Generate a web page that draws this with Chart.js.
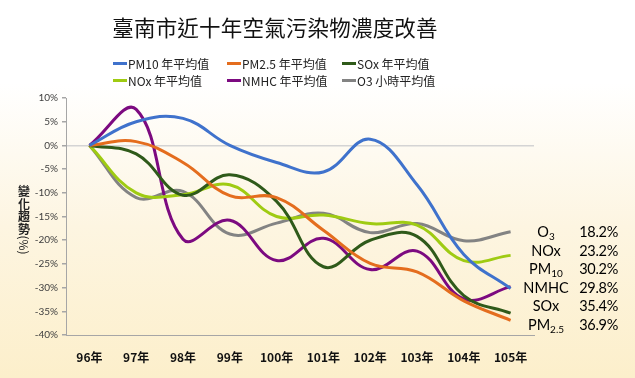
<!DOCTYPE html>
<html>
<head>
<meta charset="utf-8">
<script src="https://cdn.jsdelivr.net/npm/chart.js@4/dist/chart.umd.min.js"></script>
<style>
  html, body { margin: 0; padding: 0; }
  body { width: 635px; height: 378px; overflow: hidden;
    background: linear-gradient(to bottom, #ffffff 0%, #ffffff 22%, #fdf5e1 60%, #fcefcb 100%); }
  #wrap { position: relative; width: 635px; height: 378px; }
  canvas { position: absolute; left: 0; top: 0; }
  #title { position: absolute; left: 0; width: 550px; top: 11px; text-align: center;
    font: 21.5px "Noto Sans CJK TC", sans-serif; color: #111; letter-spacing: 0.2px; }
  .leg { position: absolute; font: 12px "Noto Sans CJK TC", sans-serif; color: #222;
    display: flex; align-items: center; white-space: nowrap; }
  .leg span.sw { display: inline-block; width: 14px; height: 3px; margin-right: 1px; }
  #ytitle { position: absolute; left: 17px; top: 185px; width: 14px;
    font: bold 12px "Noto Sans CJK TC", sans-serif; color: #222; text-align: center; }
  #ytitle .ch { display: block; height: 12.5px; line-height: 12.5px; }
  #ytitle .rot { display: block; width: 14px; height: 20px; position: relative; }
  #ytitle .rot span { position: absolute; left: 50%; top: 50%; transform: translate(-50%, -50%) rotate(90deg); white-space: nowrap; font-weight: normal; }
  .rl { position: absolute; font: 14.5px Lato, "Noto Sans", sans-serif; color: #000; height: 18px; line-height: 18px; }
  .rl .nm { position: absolute; left: 516px; width: 60px; text-align: center; }
  .rl .vl { position: absolute; left: 568px; width: 50px; text-align: right; letter-spacing: -0.3px; }
  .rl sub { font-size: 10px; vertical-align: -3px; line-height: 0; }
</style>
</head>
<body>
<div id="wrap">
  <canvas id="c" width="635" height="378"></canvas>
  <div id="title">臺南市近十年空氣污染物濃度改善</div>
  <div id="ytitle"><span class="ch">變</span><span class="ch">化</span><span class="ch">趨</span><span class="ch">勢</span><span class="rot"><span>(%)</span></span></div>
</div>
<script>
const years = ['96年','97年','98年','99年','100年','101年','102年','103年','104年','105年'];
const seriesNames = ['PM10 年平均值','PM2.5 年平均值','SOx 年平均值','NOx 年平均值','NMHC 年平均值','O3 小時平均值'];
const pm10 = [0, 5.0, 5.7, 0, -3.6, -5.6, 1.3, -8.3, -23, -30.2];
const pm25 = [0, 0.8, -3.6, -10.6, -11, -17.9, -24.9, -26.7, -32.8, -36.9];
const sox  = [0, -1.8, -10.5, -6.2, -11.8, -25.6, -20, -19.2, -31.7, -35.4];
const nox  = [0, -10, -10.4, -8.3, -15, -14.7, -16.5, -16.8, -24.3, -23.2];
const nmhc = [0, 7.6, -19.8, -15.8, -24.3, -19.6, -26.2, -22.3, -32.4, -29.8];
const o3   = [0, -11, -9.7, -18.7, -16.4, -14.3, -18.4, -16.5, -20.1, -18.2];
const colors = ['#3f72cc', '#e46d1e', '#2f5a1a', '#9fcb12', '#7c0a80', '#838383'];
const yTicks = [10, 5, 0, -5, -10, -15, -20, -25, -30, -35, -40];
const sideNames = ['O<sub>3</sub>', 'NOx', 'PM<sub>10</sub>', 'NMHC', 'SOx', 'PM<sub>2.5</sub>'];
const sideValues = ['18.2%', '23.2%', '30.2%', '29.8%', '35.4%', '36.9%'];

const values = [pm10, pm25, sox, nox, nmhc, o3];

Chart.defaults.font.family = 'Lato, "Noto Sans CJK TC", sans-serif';

const chart = new Chart(document.getElementById('c'), {
  type: 'line',
  data: {
    labels: years,
    datasets: values.map((v, i) => ({
      label: seriesNames[i],
      data: v,
      borderColor: colors[i],
      backgroundColor: colors[i],
      borderWidth: 3,
      pointRadius: 0,
      tension: 0.4,
      fill: false
    }))
  },
  options: {
    responsive: false,
    animation: false,
    layout: { padding: { left: 30, right: 101, top: 98, bottom: 0 } },
    plugins: { legend: { display: false }, title: { display: false }, tooltip: { enabled: false } },
    scales: {
      x: {
        offset: true,
        grid: { display: false },
        border: { color: '#a6a6a6', width: 1 },
        ticks: { color: '#111', font: { size: 12, weight: 'bold', family: '"Noto Sans CJK TC", sans-serif' }, padding: 7, maxRotation: 0 },
        afterFit: s => { s.height = 43; }
      },
      y: {
        min: -40, max: 10,
        afterBuildTicks: s => { s.ticks = yTicks.map(v => ({ value: v })); },
        ticks: { callback: v => v + '%', color: '#404040', font: { size: 10 }, padding: 4 },
        grid: {
          color: c => (c.tick && c.tick.value === 0) ? '#d4d4d4' : 'rgba(0,0,0,0)',
          lineWidth: 1.5,
          tickColor: '#a6a6a6',
          tickLength: 4
        },
        border: { color: '#a6a6a6', width: 1 },
        afterFit: s => { s.width = 36; }
      }
    }
  }
});

// legend (3 columns x 2 rows)
const wrap = document.getElementById('wrap');
const legCols = [113, 227, 342];
const legRows = [55, 72];
seriesNames.forEach((n, i) => {
  const d = document.createElement('div');
  d.className = 'leg';
  d.style.left = legCols[i % 3] + 'px';
  d.style.top = legRows[Math.floor(i / 3)] + 'px';
  d.innerHTML = '<span class="sw" style="background:' + colors[i] + '"></span>' + n;
  wrap.appendChild(d);
});

// right-side summary labels
const sideY = [223, 242, 260, 279, 297, 316];
sideNames.forEach((n, i) => {
  const d = document.createElement('div');
  d.className = 'rl';
  d.style.top = sideY[i] + 'px';
  d.style.left = '0px';
  d.innerHTML = '<span class="nm">' + n + '</span><span class="vl">' + sideValues[i] + '</span>';
  wrap.appendChild(d);
});
</script>
</body>
</html>
